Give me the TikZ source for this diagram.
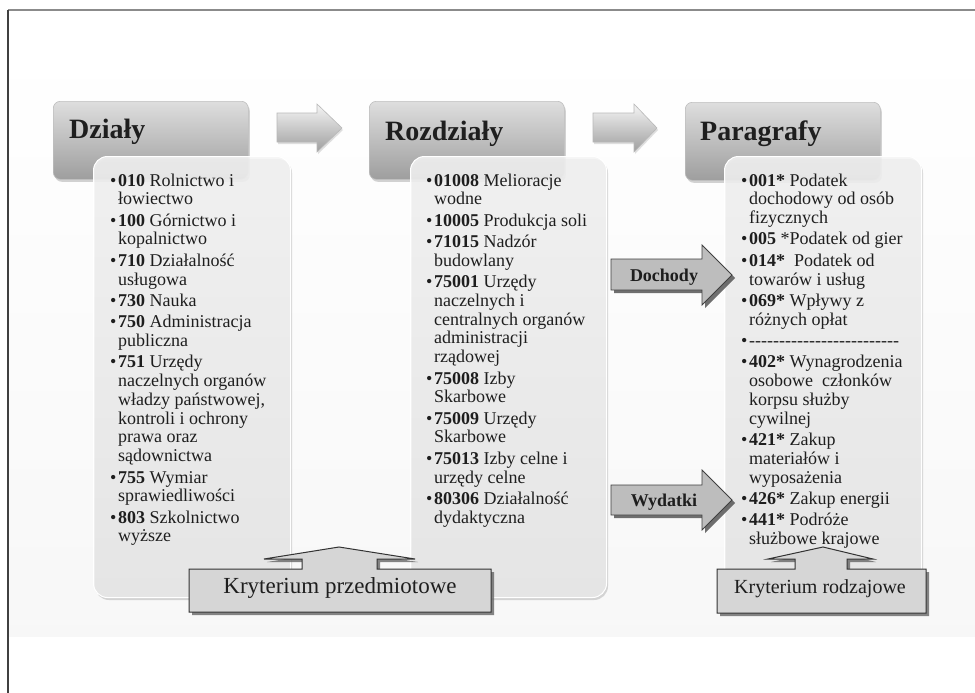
\documentclass[tikz,border=0pt]{standalone}
\usepackage{fontspec}
\setmainfont{Liberation Serif}
\usetikzlibrary{shadows}
\definecolor{framec}{HTML}{6E6E6E}
\definecolor{hdrtop}{HTML}{DEDEDE}
\definecolor{hdrbot}{HTML}{9E9E9E}
\definecolor{cboxtop}{HTML}{F4F4F4}
\definecolor{cboxbot}{HTML}{E9E9E9}
\definecolor{inkc}{HTML}{1E1E1E}
\definecolor{darrc}{HTML}{BDBDBD}
\definecolor{kryc}{HTML}{D6D6D6}
\newcommand\bitem[2]{\hbox{\makebox[8pt][l]{•}\textbf{#1} #2}}
\newcommand\contl[1]{\hbox{\hspace*{8pt}#1}}
\newcommand\igap{\vskip2.5pt}
\newcommand\hyf{\mbox{-}\mbox{-}\mbox{-}\mbox{-}\mbox{-}}
\newcommand\listbox[1]{\vtop{\baselineskip=18.8pt\lineskiplimit=-30pt\lineskip=0pt #1}}
\tikzset{
  hdr/.style={rounded corners=7pt, top color=hdrtop, bottom color=hdrbot, draw=black!25, line width=0.6pt,
    drop shadow={opacity=0.35, shadow xshift=1.5pt, shadow yshift=-2.5pt}},
  hdrtext/.style={anchor=base west, inner sep=0pt, text=inkc, font=\fontsize{28}{32}\selectfont\bfseries},
  topar/.style={top color=white!96!black, bottom color=black!38, draw=black!28, line width=0.6pt,
    drop shadow={opacity=0.25, shadow xshift=1pt, shadow yshift=-2pt}},
  cbox/.style={rounded corners=14pt, top color=cboxtop, bottom color=cboxbot, fill opacity=0.86,
    draw=white, line width=1pt, drop shadow={opacity=0.3, shadow xshift=1.5pt, shadow yshift=-2.5pt}},
  listtext/.style={anchor=base west, inner sep=0pt, text=inkc, font=\fontsize{18}{18.8}\selectfont},
  darr/.style={fill=darrc, draw=black!75, line width=0.8pt,
    drop shadow={opacity=0.8, shadow xshift=3pt, shadow yshift=-3pt, fill=black!70}},
  darrtext/.style={anchor=base, inner sep=0pt, text=inkc, font=\fontsize{18}{20}\selectfont\bfseries},
  kry/.style={fill=kryc, draw=black!80, line width=1pt, line join=miter,
    drop shadow={opacity=0.8, shadow xshift=3pt, shadow yshift=-3pt, fill=black!60}},
  krytext/.style={anchor=base, inner sep=0pt, text=inkc},
}
\begin{document}
\begin{tikzpicture}[x=1pt,y=-1pt]
\useasboundingbox (0,0) rectangle (975,693);
\fill[white] (0,0) rectangle (975,693);
% light background band
\shade[top color=white, bottom color=black!3] (9,40) rectangle (975,636);
% frame
\draw[framec!80, line width=1.4pt] (975,10) -- (8,10);
\draw[black!75, line width=1.4pt] (8,10) -- (8,693);

% header boxes
\node[hdr, anchor=north west, minimum width=195pt, minimum height=78pt, inner sep=0pt] (h1) at (53,101) {};
\node[hdr, anchor=north west, minimum width=195pt, minimum height=78pt, inner sep=0pt] (h2) at (369,101) {};
\node[hdr, anchor=north west, minimum width=195pt, minimum height=78pt, inner sep=0pt] (h3) at (685,102) {};
\node[hdrtext] (t1) at (69,139) {Działy};
\node[hdrtext] (t2) at (385,140) {Rozdziały};
\node[hdrtext] (t3) at (700,140) {Paragrafy};

% top block arrows
\path[topar] (277,113) -- (317,113) -- (317,104) -- (342,128) -- (317,152) -- (317,142) -- (277,142) -- cycle;
\path[topar] (593,113) -- (634,113) -- (634,104) -- (657,128) -- (634,152) -- (634,142) -- (593,142) -- cycle;

% content boxes
\node[cbox, anchor=north west, minimum width=197pt, minimum height=441pt, inner sep=0pt] (c1) at (93,156) {};
\node[cbox, anchor=north west, minimum width=196pt, minimum height=441pt, inner sep=0pt] (c2) at (410,156) {};
\node[cbox, anchor=north west, minimum width=197pt, minimum height=441pt, inner sep=0pt] (c3) at (724,156) {};

% lists
\node[listtext] (l1) at (110,186) {\listbox{%
\bitem{010}{Rolnictwo i}
\contl{łowiectwo}\igap
\bitem{100}{Górnictwo i}
\contl{kopalnictwo}\igap
\bitem{710}{Działalność}
\contl{usługowa}\igap
\bitem{730}{Nauka}\igap
\bitem{750}{Administracja}
\contl{publiczna}\igap
\bitem{751}{Urzędy}
\contl{naczelnych organów}
\contl{władzy państwowej,}
\contl{kontroli i ochrony}
\contl{prawa oraz}
\contl{sądownictwa}\igap
\bitem{755}{Wymiar}
\contl{sprawiedliwości}\igap
\bitem{803}{Szkolnictwo}
\contl{wyższe}}};

\node[listtext] (l2) at (426,186) {\listbox{%
\bitem{01008}{Melioracje}
\contl{wodne}\igap
\bitem{10005}{Produkcja soli}\igap
\bitem{71015}{Nadzór}
\contl{budowlany}\igap
\bitem{75001}{Urzędy}
\contl{naczelnych i}
\contl{centralnych organów}
\contl{administracji}
\contl{rządowej}\igap
\bitem{75008}{Izby}
\contl{Skarbowe}\igap
\bitem{75009}{Urzędy}
\contl{Skarbowe}\igap
\bitem{75013}{Izby celne i}
\contl{urzędy celne}\igap
\bitem{80306}{Działalność}
\contl{dydaktyczna}}};

\node[listtext] (l3) at (741,186) {\listbox{%
\bitem{001*}{Podatek}
\contl{dochodowy od osób}
\contl{fizycznych}\igap
\bitem{005}{*Podatek od gier}\igap
\bitem{014*}{\ Podatek od}
\contl{towarów i usług}\igap
\bitem{069*}{Wpływy z}
\contl{różnych opłat}\igap
\hbox{\makebox[8pt][l]{•}\hyf\hyf\hyf\hyf\hyf}\igap
\bitem{402*}{Wynagrodzenia}
\contl{osobowe\ \ członków}
\contl{korpsu służby}
\contl{cywilnej}\igap
\bitem{421*}{Zakup}
\contl{materiałów i}
\contl{wyposażenia}\igap
\bitem{426*}{Zakup energii}\igap
\bitem{441*}{Podróże}
\contl{służbowe krajowe}}};

% Dochody / Wydatki arrows
\path[darr] (611,259) -- (702,259) -- (702,245) -- (732,275) -- (702,305) -- (702,290) -- (611,290) -- cycle;
\node[darrtext] (doch) at (664,281) {Dochody};
\path[darr] (611,485) -- (702,485) -- (702,470) -- (732,500) -- (702,530) -- (702,515) -- (611,515) -- cycle;
\node[darrtext] (wyd) at (664,506) {Wydatki};

% Kryterium callouts
\path[kry] (189,569) -- (302,569) -- (302,559) -- (264,559) -- (339,547) -- (415,559) -- (377,559) -- (377,569)
  -- (491,569) -- (491,612) -- (189,612) -- cycle;
\node[krytext, font=\fontsize{23}{26}\selectfont] (k1) at (340,593) {Kryterium przedmiotowe};
\path[kry] (717,569) -- (795,569) -- (795,559) -- (768,559) -- (823,547) -- (873,559) -- (847,559) -- (847,569)
  -- (926,569) -- (926,613) -- (717,613) -- cycle;
\node[krytext, font=\fontsize{20}{24}\selectfont] (k2) at (820,593) {Kryterium rodzajowe};
\end{tikzpicture}
\end{document}
